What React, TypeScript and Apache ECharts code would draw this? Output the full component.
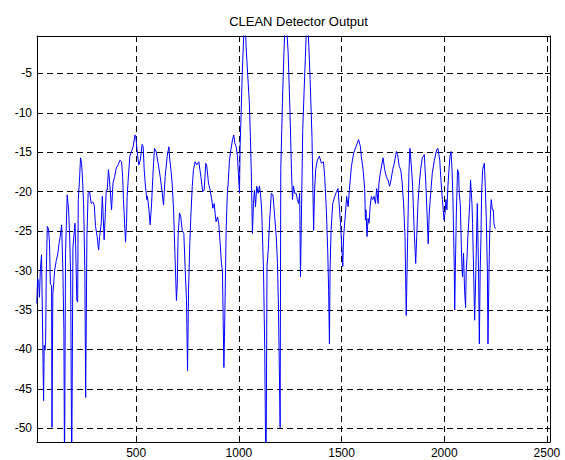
import React, { useEffect, useRef } from "react";
import * as echarts from "echarts";

const chartTitle = "CLEAN Detector Output";

const sampleIndex = [
  16, 20, 25, 29, 33, 39, 45, 49, 52, 56, 59, 62, 67, 73, 78, 82, 88, 90, 94, 103,
  111, 119, 124, 130, 137, 143, 148, 151, 156, 164, 171, 176, 181, 186, 192, 202, 205, 211, 215, 218,
  224, 229, 234, 237, 244, 250, 254, 260, 266, 273, 281, 289, 296, 302, 310, 317, 322, 330, 335, 338,
  344, 349, 354, 359, 365, 370, 380, 387, 395, 403, 412,
  421, 429, 434, 438, 448, 453, 456, 461, 469, 477, 485, 494, 498, 507, 513, 520, 529, 534, 539, 545,
  552, 555, 562, 568, 575, 581, 589, 597, 607, 617, 627, 633, 641, 651, 659, 664, 669, 675, 682, 688,
  696, 700, 704, 711, 717, 724, 732, 738, 745, 750, 755, 761, 766, 773, 779, 787, 795, 805, 815,
  824, 831, 839, 844, 852, 860, 868, 873, 880, 886, 889, 896, 902, 909, 915, 920, 927, 930, 935, 938,
  944, 948, 954, 961, 969, 975, 980, 987, 993, 1003, 1006, 1011, 1016, 1021, 1026, 1031, 1035, 1043, 1051, 1056,
  1061, 1066, 1071, 1076, 1081, 1087, 1094, 1100, 1105, 1111, 1120, 1126, 1132, 1137, 1143, 1149, 1158, 1166, 1172, 1182,
  1188, 1193, 1201, 1204, 1209, 1212, 1219, 1225,
  1230, 1240, 1243, 1249, 1256, 1261, 1266, 1272, 1279, 1285, 1291, 1296, 1300, 1303, 1311, 1318, 1324, 1329, 1335, 1340,
  1347, 1356, 1364, 1368, 1374, 1382, 1392, 1402, 1412, 1418, 1426, 1433, 1437, 1441, 1444, 1449, 1457, 1467, 1475, 1483,
  1488, 1496, 1506, 1510, 1519, 1525, 1532, 1538, 1548, 1559, 1570, 1583, 1592, 1596, 1605, 1613, 1616, 1619,
  1624, 1629, 1634, 1639, 1645, 1652, 1658, 1665, 1671, 1678, 1682, 1689, 1702, 1710, 1718, 1726, 1734, 1741, 1749, 1755,
  1767, 1773, 1781, 1788, 1794, 1802, 1809, 1815, 1822, 1828, 1833, 1840, 1846, 1853, 1861, 1866, 1872, 1879, 1885, 1893,
  1903, 1911, 1922, 1927, 1934, 1942, 1952, 1963, 1969, 1978, 1984, 1991, 1999, 2004, 2008,
  2013, 2018, 2023, 2028, 2033, 2038, 2042, 2046, 2049, 2051, 2054, 2059, 2062, 2065, 2070, 2073, 2078, 2083, 2086, 2089,
  2094, 2099, 2104, 2107, 2111, 2115, 2119, 2124, 2128, 2135, 2138, 2143, 2148, 2154, 2161, 2167, 2171, 2175, 2179, 2182,
  2187, 2195, 2200, 2205, 2210, 2213, 2218, 2221, 2226, 2229, 2234, 2239, 2242, 2245, 2249,
];

const detectorDb = [
  -34.2, -31.0, -31.5, -33.4, -30.0, -28.0, -38.9, -46.5, -39.5, -40.1, -39.0, -30.8, -24.4, -24.7, -26.6, -31.7, -31.9, -49.9, -33.0, -30.0,
  -28.7, -27.8, -26.6, -25.7, -24.2, -30.0, -37.6, -56.0, -27.8, -20.4, -22.3, -25.7, -30.8, -56.0, -27.0, -24.0, -26.6, -33.8, -34.0, -21.0,
  -18.5, -15.7, -16.4, -17.6, -21.5, -30.0, -46.1, -25.7, -20.2, -20.0, -21.5, -21.3, -21.7, -24.4, -25.7, -27.4, -25.7, -24.0, -20.6, -22.3,
  -26.1, -23.2, -19.8, -19.8, -17.2, -18.5, -22.3, -18.9, -18.1, -17.0, -16.6,
  -16.0, -16.2, -18.1, -21.0, -26.4, -24.0, -20.6, -18.5, -15.5, -14.9, -14.3, -12.8, -13.0, -15.5, -16.6, -16.0, -14.0, -14.3, -17.2, -19.3,
  -21.0, -20.6, -22.3, -24.2, -21.5, -18.1, -14.5, -14.9, -16.4, -18.1, -20.2, -21.7, -18.1, -15.5, -14.3, -16.0, -17.2, -18.9, -22.3, -27.4,
  -33.8, -31.7, -25.7, -22.7, -23.2, -24.9, -25.3, -29.5, -33.8, -42.7, -32.5, -26.6, -23.2, -19.3, -17.2, -16.2, -16.6, -16.2, -18.1,
  -20.0, -19.8, -16.4, -16.8, -18.9, -19.8, -21.0, -22.1, -21.5, -23.2, -23.8, -23.2, -24.0, -26.6, -29.1, -30.0, -42.3, -38.4, -30.0, -24.9,
  -20.2, -18.9, -16.0, -14.7, -13.4, -12.8, -13.8, -14.3, -15.5, -20.2, -14.3, -10.0, -5.3, -1.9, 1.0, 2.0, -1.5, -5.2, -8.7, -13.0,
  -18.1, -25.3, -21.5, -19.8, -21.9, -19.3, -20.2, -19.3, -20.2, -22.3, -30.0, -40.0, -58.0, -29.5, -27.4, -24.0, -20.2, -20.4, -22.3, -25.7,
  -29.1, -35.0, -49.9, -17.2, -12.1, -8.7, -2.8, 1.5,
  2.0, -2.4, -4.9, -10.0, -17.2, -21.0, -19.3, -20.2, -20.2, -21.0, -21.5, -20.2, -30.8, -25.7, -12.1, -7.0, -2.8, 1.0, 1.5, -1.1,
  -5.8, -13.0, -24.9, -20.2, -17.2, -16.0, -15.5, -16.4, -16.2, -18.1, -22.3, -27.8, -32.5, -39.3, -30.0, -24.9, -21.5, -20.6, -20.0, -19.6,
  -21.5, -24.4, -29.5, -25.7, -22.7, -20.6, -21.9, -19.8, -16.8, -15.1, -14.3, -13.4, -14.3, -15.5, -17.2, -19.8, -23.6, -22.3,
  -25.7, -23.4, -24.0, -21.9, -20.6, -21.0, -20.6, -21.5, -19.6, -21.5, -18.9, -17.6, -15.7, -17.2, -18.1, -18.5, -19.3, -18.5, -17.2, -16.6,
  -14.9, -15.3, -16.8, -17.2, -18.5, -21.5, -25.7, -35.7, -25.7, -17.6, -14.5, -16.8, -19.3, -24.4, -29.1, -25.7, -21.5, -18.9, -17.2, -15.7,
  -15.3, -19.3, -26.6, -22.7, -20.2, -17.6, -16.0, -14.7, -14.5, -16.0, -18.5, -21.0, -23.6, -22.7, -21.0,
  -22.3, -19.3, -17.2, -15.5, -14.9, -17.2, -20.6, -25.7, -30.0, -35.0, -30.0, -22.7, -19.8, -17.2, -17.6, -20.2, -21.5, -26.6, -29.5, -30.8,
  -27.8, -32.5, -34.7, -30.0, -28.3, -25.7, -24.0, -21.5, -18.5, -21.5, -24.0, -30.0, -36.3, -30.0, -21.5, -30.0, -39.3, -30.0, -25.7, -20.2,
  -17.2, -16.4, -19.3, -23.6, -30.0, -39.3, -30.0, -25.7, -22.3, -21.0, -22.3, -22.3, -24.0, -24.4, -24.7,
];

const xTickValues = [500, 1000, 1500, 2000, 2500];
const yTickValues = [-50, -45, -40, -35, -30, -25, -20, -15, -10, -5];

const FONT = 'Arial, "Liberation Sans", Helvetica, sans-serif';

export default function App() {
  const ref = useRef<HTMLDivElement>(null);

  useEffect(() => {
    if (!ref.current) return;
    const chart = echarts.init(ref.current, null, { renderer: "svg" });
    const points = sampleIndex.map((x, i) => [x, detectorDb[i]]);
    const xMin = 17;
    const xMax = 2515;
    const yMin = -51.75;
    const yMax = -0.25;
    const plain = (v: number) => String(v);

    const gridLine = { show: true, lineStyle: { color: "#000", width: 1, type: [6, 4] as any } };

    chart.setOption({
      animation: false,
      backgroundColor: "#fff",
      title: {
        text: chartTitle,
        left: 293.5,
        top: 10,
        textAlign: "center",
        textStyle: { fontFamily: FONT, fontSize: 13, fontWeight: "normal", color: "#000" },
      },
      grid: { left: 37, top: 36, width: 513, height: 406, containLabel: false },
      xAxis: [
        {
          type: "value",
          min: xMin,
          max: xMax,
          minInterval: 500,
          maxInterval: 500,
          axisLine: { show: true, lineStyle: { color: "#000", width: 1 } },
          axisTick: { show: true, inside: true, length: 5, lineStyle: { color: "#000" }, customValues: xTickValues },
          axisLabel: {
            show: true,
            customValues: xTickValues,
            formatter: plain,
            color: "#000",
            fontFamily: FONT,
            fontSize: 12,
            margin: 5,
          },
          splitLine: gridLine,
        },
        {
          type: "value",
          position: "top",
          min: xMin,
          max: xMax,
          minInterval: 500,
          maxInterval: 500,
          axisLine: { show: true, lineStyle: { color: "#000", width: 1 } },
          axisTick: { show: true, inside: true, length: 5, lineStyle: { color: "#000" }, customValues: xTickValues },
          axisLabel: { show: false },
          splitLine: { show: false },
        },
      ],
      yAxis: [
        {
          type: "value",
          min: yMin,
          max: yMax,
          minInterval: 5,
          maxInterval: 5,
          axisLine: { show: true, lineStyle: { color: "#000", width: 1 } },
          axisTick: { show: true, inside: true, length: 5, lineStyle: { color: "#000" }, customValues: yTickValues },
          axisLabel: {
            show: true,
            customValues: yTickValues,
            formatter: plain,
            color: "#000",
            fontFamily: FONT,
            fontSize: 12,
            margin: 5,
          },
          splitLine: gridLine,
        },
        {
          type: "value",
          position: "right",
          min: yMin,
          max: yMax,
          minInterval: 5,
          maxInterval: 5,
          axisLine: { show: true, lineStyle: { color: "#000", width: 1 } },
          axisTick: { show: true, inside: true, length: 5, lineStyle: { color: "#000" }, customValues: yTickValues },
          axisLabel: { show: false },
          splitLine: { show: false },
        },
      ],
      series: [
        {
          type: "line",
          data: points,
          xAxisIndex: 0,
          yAxisIndex: 0,
          showSymbol: false,
          symbol: "none",
          clip: true,
          silent: true,
          lineStyle: { color: "#0000ff", width: 1 },
        },
      ],
    });

    return () => chart.dispose();
  }, []);

  return (
    <div
      ref={ref}
      style={{ position: "fixed", left: 0, top: 0, width: 565, height: 460, background: "#fff" }}
    />
  );
}
